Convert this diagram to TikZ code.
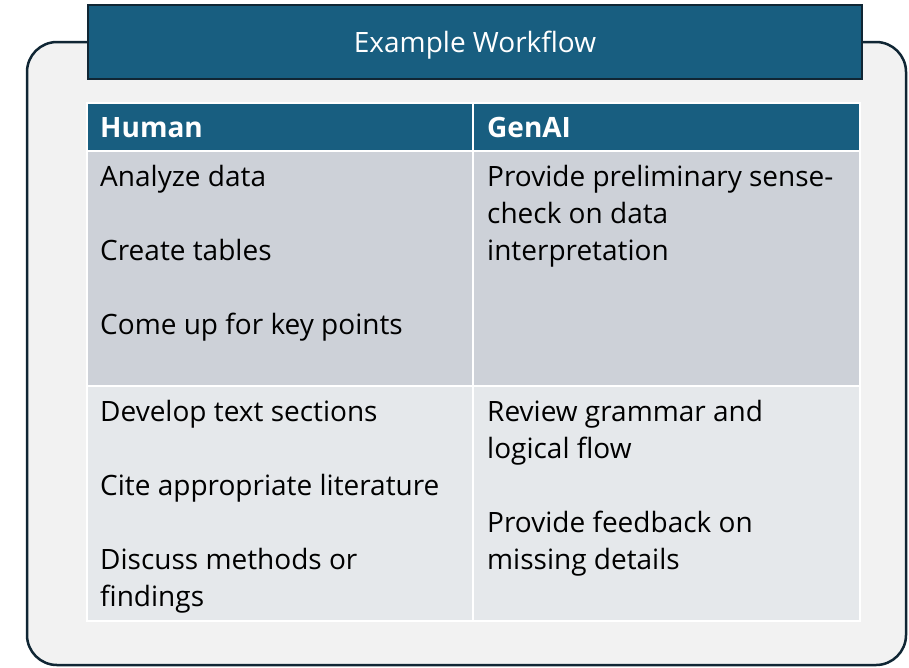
\documentclass[tikz,border=0pt]{standalone}
\usepackage{fontspec}
\setmainfont{Open Sans}
\usetikzlibrary{positioning}

\definecolor{headblue}{RGB}{24,94,128}
\definecolor{darkline}{RGB}{16,38,52}
\definecolor{panelgray}{RGB}{242,242,242}
\definecolor{rowone}{RGB}{205,209,216}
\definecolor{rowtwo}{RGB}{229,232,235}

\tikzset{
  panel/.style={draw=darkline, line width=2.5pt, fill=panelgray, rounded corners=30pt},
  titlebox/.style={draw=darkline, line width=2pt, fill=headblue},
  grid/.style={draw=white, line width=2.5pt},
  headtext/.style={anchor=base west, inner sep=0pt, text=white, font=\fontsize{28}{34}\selectfont\bfseries},
  celltext/.style={anchor=base west, inner sep=0pt, align=left, font=\fontsize{28}{37}\selectfont}
}

\begin{document}
\begin{tikzpicture}[x=1pt, y=-1pt]
  \useasboundingbox (0,0) rectangle (909,667);
  \draw[panel] (27,42) rectangle (906,665);
  \draw[titlebox] (88,5) rectangle (862,79);
  \node[anchor=base, inner sep=0pt, text=white, font=\fontsize{28}{34}\selectfont] (title) at (475,52) {Example Workflow};

  % table
  \fill[headblue] (87,103) rectangle (860,151);
  \fill[rowone] (87,151) rectangle (860,386);
  \fill[rowtwo] (87,386) rectangle (860,621);
  \draw[grid] (87,103) rectangle (860,621);
  \draw[grid] (87,151) -- (860,151);
  \draw[grid] (87,386) -- (860,386);
  \draw[grid] (473,103) -- (473,621);

  \node[headtext] (human) at (100,137) {Human};
  \node[headtext] (genai) at (487,137) {GenAI};

  % base of a wrapped text is its last line
  \node[celltext] (analyze) at (100,186) {Analyze data};
  \node[celltext] (tables) at (100,260) {Create tables};
  \node[celltext] (points) at (100,334) {Come up for key points};
  \node[celltext] (sense) at (487,260) {Provide preliminary sense-\\check on data\\interpretation};

  \node[celltext] (develop) at (100,421) {Develop text sections};
  \node[celltext] (cite) at (100,495) {Cite appropriate literature};
  \node[celltext] (discuss) at (100,606) {Discuss methods or\\findings};
  \node[celltext] (review) at (487,458) {Review grammar and\\logical flow};
  \node[celltext] (feedback) at (487,569) {Provide feedback on\\missing details};
\end{tikzpicture}
\end{document}
